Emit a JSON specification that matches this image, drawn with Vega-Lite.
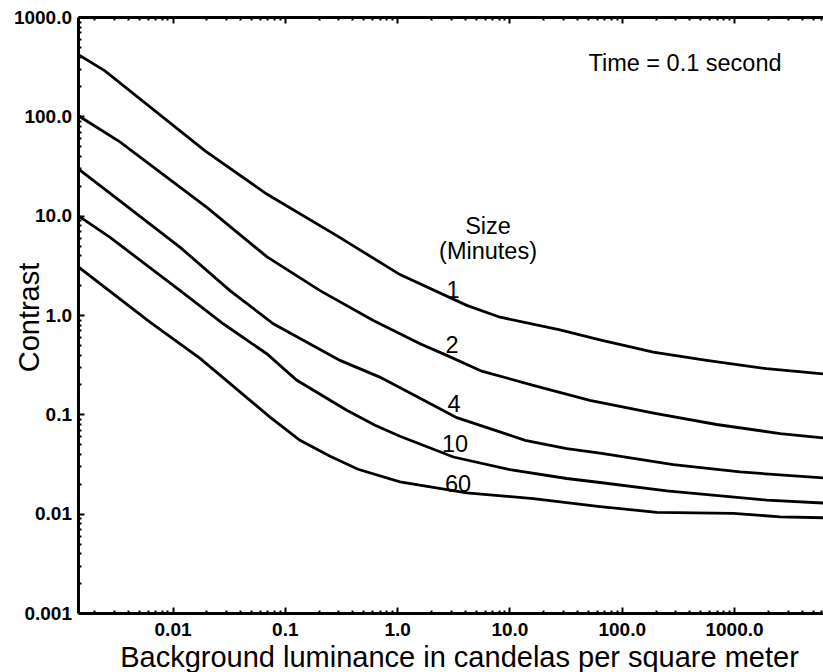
{
  "$schema": "https://vega.github.io/schema/vega-lite/v6.json",
  "width": 745,
  "height": 596,
  "autosize": "none",
  "padding": {"left": 78, "top": 17, "right": 0, "bottom": 59},
  "background": "white",
  "config": {
    "view": {"stroke": null},
    "font": "Liberation Sans",
    "axis": {
      "domainColor": "black",
      "domainWidth": 3,
      "ticks": true,
      "tickColor": "black",
      "tickWidth": 2,
      "grid": false,
      "labelColor": "black",
      "labelFont": "Liberation Sans",
      "labelFontWeight": "bold",
      "labelFontSize": 19,
      "labelFlush": false,
      "labelOverlap": false,
      "titleColor": "black",
      "titleFont": "Liberation Sans",
      "titleFontWeight": "normal",
      "titleFontSize": 29
    }
  },
  "datasets": {
    "curves": [
      {"size": "1", "lum": 0.00144, "contrast": 420},
      {"size": "1", "lum": 0.0025, "contrast": 287},
      {"size": "1", "lum": 0.0195, "contrast": 45},
      {"size": "1", "lum": 0.069, "contrast": 16.5},
      {"size": "1", "lum": 0.29, "contrast": 6.3},
      {"size": "1", "lum": 1.06, "contrast": 2.55},
      {"size": "1", "lum": 4.17, "contrast": 1.25},
      {"size": "1", "lum": 8.25, "contrast": 0.95},
      {"size": "1", "lum": 28.2, "contrast": 0.71},
      {"size": "1", "lum": 64, "contrast": 0.563},
      {"size": "1", "lum": 191, "contrast": 0.423},
      {"size": "1", "lum": 571, "contrast": 0.349},
      {"size": "1", "lum": 1955, "contrast": 0.288},
      {"size": "1", "lum": 6200, "contrast": 0.256},

      {"size": "2", "lum": 0.00144, "contrast": 102},
      {"size": "2", "lum": 0.0034, "contrast": 55.4},
      {"size": "2", "lum": 0.0202, "contrast": 12.1},
      {"size": "2", "lum": 0.069, "contrast": 3.87},
      {"size": "2", "lum": 0.206, "contrast": 1.76},
      {"size": "2", "lum": 0.614, "contrast": 0.88},
      {"size": "2", "lum": 1.6, "contrast": 0.514},
      {"size": "2", "lum": 2.77, "contrast": 0.392},
      {"size": "2", "lum": 5.67, "contrast": 0.272},
      {"size": "2", "lum": 16.3, "contrast": 0.196},
      {"size": "2", "lum": 52, "contrast": 0.138},
      {"size": "2", "lum": 198, "contrast": 0.102},
      {"size": "2", "lum": 700, "contrast": 0.079},
      {"size": "2", "lum": 2570, "contrast": 0.064},
      {"size": "2", "lum": 6200, "contrast": 0.058},

      {"size": "4", "lum": 0.00144, "contrast": 29.7},
      {"size": "4", "lum": 0.0034, "contrast": 14.1},
      {"size": "4", "lum": 0.0117, "contrast": 4.8},
      {"size": "4", "lum": 0.0325, "contrast": 1.76},
      {"size": "4", "lum": 0.079, "contrast": 0.816},
      {"size": "4", "lum": 0.31, "contrast": 0.349},
      {"size": "4", "lum": 0.70, "contrast": 0.237},
      {"size": "4", "lum": 1.6, "contrast": 0.145},
      {"size": "4", "lum": 3.4, "contrast": 0.0926},
      {"size": "4", "lum": 13.8, "contrast": 0.0548},
      {"size": "4", "lum": 32.4, "contrast": 0.0452},
      {"size": "4", "lum": 64, "contrast": 0.0406},
      {"size": "4", "lum": 288, "contrast": 0.0312},
      {"size": "4", "lum": 1130, "contrast": 0.0263},
      {"size": "4", "lum": 6200, "contrast": 0.0229},

      {"size": "10", "lum": 0.00144, "contrast": 10.0},
      {"size": "10", "lum": 0.0028, "contrast": 6.0},
      {"size": "10", "lum": 0.0117, "contrast": 1.76},
      {"size": "10", "lum": 0.0283, "contrast": 0.816},
      {"size": "10", "lum": 0.069, "contrast": 0.4075},
      {"size": "10", "lum": 0.128, "contrast": 0.22},
      {"size": "10", "lum": 0.356, "contrast": 0.11},
      {"size": "10", "lum": 0.636, "contrast": 0.0775},
      {"size": "10", "lum": 1.06, "contrast": 0.0601},
      {"size": "10", "lum": 3.17, "contrast": 0.0372},
      {"size": "10", "lum": 10.1, "contrast": 0.0278},
      {"size": "10", "lum": 32.4, "contrast": 0.0226},
      {"size": "10", "lum": 64, "contrast": 0.0206},
      {"size": "10", "lum": 252, "contrast": 0.017},
      {"size": "10", "lum": 1955, "contrast": 0.0137},
      {"size": "10", "lum": 6200, "contrast": 0.0128},

      {"size": "60", "lum": 0.00144, "contrast": 3.07},
      {"size": "60", "lum": 0.0063, "contrast": 0.847},
      {"size": "60", "lum": 0.0176, "contrast": 0.365},
      {"size": "60", "lum": 0.0738, "contrast": 0.0939},
      {"size": "60", "lum": 0.1365, "contrast": 0.0548},
      {"size": "60", "lum": 0.253, "contrast": 0.0378},
      {"size": "60", "lum": 0.449, "contrast": 0.028},
      {"size": "60", "lum": 1.06, "contrast": 0.0209},
      {"size": "60", "lum": 4.17, "contrast": 0.0162},
      {"size": "60", "lum": 16.3, "contrast": 0.0142},
      {"size": "60", "lum": 64, "contrast": 0.0118},
      {"size": "60", "lum": 205, "contrast": 0.0103},
      {"size": "60", "lum": 986, "contrast": 0.01005},
      {"size": "60", "lum": 2570, "contrast": 0.0093},
      {"size": "60", "lum": 6200, "contrast": 0.0091}
    ],
    "notes": [
      {"label": "Time = 0.1 second", "lum": 366, "contrast": 286.6},
      {"label": "Size", "lum": 6.45, "contrast": 6.59},
      {"label": "(Minutes)", "lum": 6.45, "contrast": 3.70},
      {"label": "1", "lum": 3.15, "contrast": 1.50},
      {"label": "2", "lum": 3.08, "contrast": 0.410},
      {"label": "4", "lum": 3.21, "contrast": 0.1047},
      {"label": "10", "lum": 3.28, "contrast": 0.0415},
      {"label": "60", "lum": 3.49, "contrast": 0.01645}
    ]
  },
  "layer": [
    {
      "data": {"name": "curves"},
      "mark": {"type": "line", "color": "black", "strokeWidth": 2.8, "clip": true},
      "encoding": {
        "x": {
          "field": "lum",
          "type": "quantitative",
          "scale": {"type": "log", "domain": [0.00144, 6200], "nice": false},
          "axis": {
            "orient": "bottom",
            "title": "Background luminance in candelas per square meter",
            "titleX": 381,
            "titleY": 53,
            "titleAlign": "center",
            "titleBaseline": "alphabetic",
            "values": [0.002, 0.003, 0.004, 0.005, 0.006, 0.007, 0.008, 0.009,
                       0.01, 0.02, 0.03, 0.04, 0.05, 0.06, 0.07, 0.08, 0.09,
                       0.1, 0.2, 0.3, 0.4, 0.5, 0.6, 0.7, 0.8, 0.9,
                       1, 2, 3, 4, 5, 6, 7, 8, 9,
                       10, 20, 30, 40, 50, 60, 70, 80, 90,
                       100, 200, 300, 400, 500, 600, 700, 800, 900,
                       1000, 2000, 3000, 4000, 5000, 6000],
            "labelExpr": "abs(log(datum.value)/LN10 - round(log(datum.value)/LN10)) < 0.01 ? (datum.value >= 1 ? format(datum.value, '.1f') : format(datum.value, '~g')) : ''",
            "labelBaseline": "alphabetic",
            "labelPadding": 28.5,
            "tickSize": {"condition": {"test": "abs(log(datum.value)/LN10 - round(log(datum.value)/LN10)) < 0.01", "value": -6}, "value": -3}
          }
        },
        "y": {
          "field": "contrast",
          "type": "quantitative",
          "scale": {"type": "log", "domain": [0.001, 1000], "nice": false},
          "axis": {
            "orient": "left",
            "title": "Contrast",
            "titleX": -40,
            "titleY": 300,
            "titleAngle": -90,
            "titleAlign": "center",
            "titleBaseline": "alphabetic",
            "values": [0.001, 0.002, 0.003, 0.004, 0.005, 0.006, 0.007, 0.008, 0.009,
                       0.01, 0.02, 0.03, 0.04, 0.05, 0.06, 0.07, 0.08, 0.09,
                       0.1, 0.2, 0.3, 0.4, 0.5, 0.6, 0.7, 0.8, 0.9,
                       1, 2, 3, 4, 5, 6, 7, 8, 9,
                       10, 20, 30, 40, 50, 60, 70, 80, 90,
                       100, 200, 300, 400, 500, 600, 700, 800, 900, 1000],
            "labelExpr": "abs(log(datum.value)/LN10 - round(log(datum.value)/LN10)) < 0.01 ? (datum.value >= 1 ? format(datum.value, '.1f') : format(datum.value, '~g')) : ''",
            "labelAlign": "right",
            "labelBaseline": "middle",
            "labelPadding": 12.5,
            "tickSize": {"condition": {"test": "abs(log(datum.value)/LN10 - round(log(datum.value)/LN10)) < 0.01", "value": -6}, "value": -3}
          }
        },
        "detail": {"field": "size", "type": "nominal"}
      }
    },
    {
      "data": {"name": "notes"},
      "mark": {"type": "text", "fontSize": 23.5, "font": "Liberation Sans", "color": "black", "align": "center", "baseline": "alphabetic"},
      "encoding": {
        "x": {
          "field": "lum",
          "type": "quantitative",
          "axis": {
            "orient": "top",
            "title": null,
            "labels": false,
            "values": [0.002, 0.003, 0.004, 0.005, 0.006, 0.007, 0.008, 0.009,
                       0.01, 0.02, 0.03, 0.04, 0.05, 0.06, 0.07, 0.08, 0.09,
                       0.1, 0.2, 0.3, 0.4, 0.5, 0.6, 0.7, 0.8, 0.9,
                       1, 2, 3, 4, 5, 6, 7, 8, 9,
                       10, 20, 30, 40, 50, 60, 70, 80, 90,
                       100, 200, 300, 400, 500, 600, 700, 800, 900,
                       1000, 2000, 3000, 4000, 5000, 6000],
            "tickSize": {"condition": {"test": "abs(log(datum.value)/LN10 - round(log(datum.value)/LN10)) < 0.01", "value": -6}, "value": -3}
          }
        },
        "y": {"field": "contrast", "type": "quantitative"},
        "text": {"field": "label", "type": "nominal"}
      }
    }
  ],
  "resolve": {"axis": {"x": "independent"}}
}
